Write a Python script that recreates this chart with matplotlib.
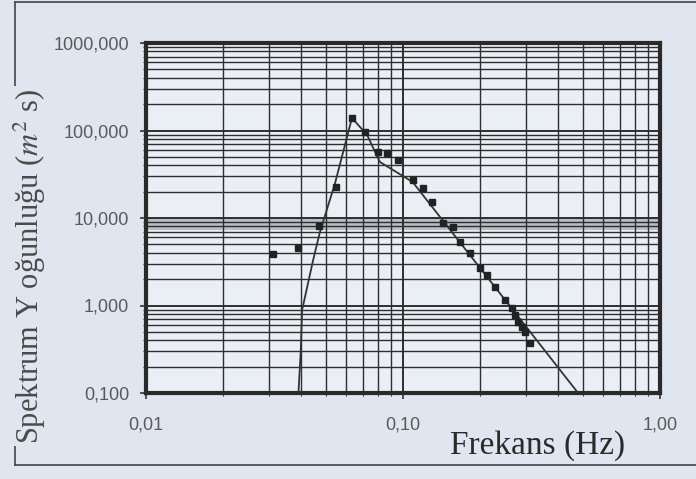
import matplotlib
matplotlib.use("Agg")
import matplotlib.pyplot as plt
from matplotlib.ticker import FixedLocator, LogLocator, NullFormatter
from matplotlib.lines import Line2D

# measured spectrum (square markers)
obs_f = [0.0312, 0.0390, 0.0471, 0.0548, 0.0633, 0.0712, 0.0800, 0.0866, 0.0957,
         0.109, 0.1196, 0.1297, 0.143, 0.157, 0.167, 0.182, 0.1995, 0.212, 0.228,
         0.249, 0.265, 0.273, 0.280, 0.290, 0.298, 0.312]
obs_s = [3.9, 4.5, 8.1, 22.6, 139, 96, 56.7, 55, 46,
         27, 22, 15.2, 8.8, 7.9, 5.3, 3.98, 2.68, 2.23, 1.63,
         1.16, 0.94, 0.78, 0.65, 0.57, 0.50, 0.37]

# fitted spectrum (line)
fit_f = [0.0387, 0.0400, 0.0405, 0.0447, 0.0475, 0.0544, 0.0633, 0.0725, 0.0772,
         0.0813, 0.109, 0.48]
fit_s = [0.05, 0.3, 0.89, 3.3, 6.9, 25, 139, 89, 60,
         43.7, 25.8, 0.1]

y_ticks = [0.1, 1, 10, 100, 1000]
y_labels = ["0,100", "1,000", "10,000", "100,000", "1000,000"]
x_ticks = [0.01, 0.1, 1.0]
x_labels = ["0,01", "0,10", "1,00"]

bg = "#dfe6ef"
plt.rcParams["mathtext.fontset"] = "stix"

fig = plt.figure(figsize=(6.96, 4.79), dpi=100, facecolor=bg)
ax = fig.add_axes([146/696, 1 - 393/479, 514/696, 350/479])
ax.set_facecolor("#eaeff6")
ax.set_xscale("log")
ax.set_yscale("log")
ax.set_xlim(0.01, 1.0)
ax.set_ylim(0.1, 1000)

# scan-like gray band below 10
ax.axhspan(7.2, 10, color="#b9bec4", zorder=0.5, lw=0)

ax.xaxis.set_major_locator(FixedLocator(x_ticks))
ax.xaxis.set_minor_locator(LogLocator(base=10, subs=range(2, 10)))
ax.yaxis.set_major_locator(FixedLocator(y_ticks))
ax.yaxis.set_minor_locator(LogLocator(base=10, subs=range(2, 10)))
ax.xaxis.set_minor_formatter(NullFormatter())
ax.yaxis.set_minor_formatter(NullFormatter())
ax.set_xticklabels(x_labels, fontsize=13, color="#5a5a5a", family="Liberation Sans")
ax.set_yticklabels(y_labels, fontsize=13, color="#5a5a5a", family="Liberation Sans")
ax.tick_params(axis="x", which="major", length=4, width=1.2, pad=13, color="#333333")
ax.tick_params(axis="y", which="major", length=4, width=1.2, pad=8, color="#333333")
ax.tick_params(which="minor", length=2, width=0.8, color="#333333")

ax.grid(which="major", color="#2e2e2e", lw=1.4)
ax.grid(which="minor", color="#2e2e2e", lw=1.0)
ax.set_axisbelow(True)
for s in ax.spines.values():
    s.set_linewidth(3)
    s.set_color("#2a2a2a")

ax.plot(fit_f, fit_s, color="#333333", lw=1.3, zorder=3)
ax.plot(obs_f, obs_s, ls="none", marker="s", ms=4.5, color="#222222", zorder=4)

# labels
fig.text(538/696, 1 - 446/479, "Frekans (Hz)", ha="center", va="center",
         fontsize=24, family="Liberation Serif", color="#2a2a2a")
fig.text(30/696, 1 - 266/479, "Spektrum Y oğunluğu ($m^2$ s)", rotation=90,
         ha="center", va="center", fontsize=22, family="Liberation Serif",
         color="#4a4a4a", bbox=dict(facecolor=bg, edgecolor="none", pad=2))

# outer frame lines
fig.add_artist(Line2D([15/696, 1], [1 - 2/479] * 2, color="#444444", lw=1.2, zorder=0))
fig.add_artist(Line2D([15/696] * 2, [1 - 2/479, 1 - 465/479], color="#444444", lw=1.2, zorder=0))
fig.add_artist(Line2D([15/696, 1], [1 - 465/479] * 2, color="#444444", lw=1.2, zorder=0))

fig.savefig("out.png", dpi=100, facecolor=bg)
